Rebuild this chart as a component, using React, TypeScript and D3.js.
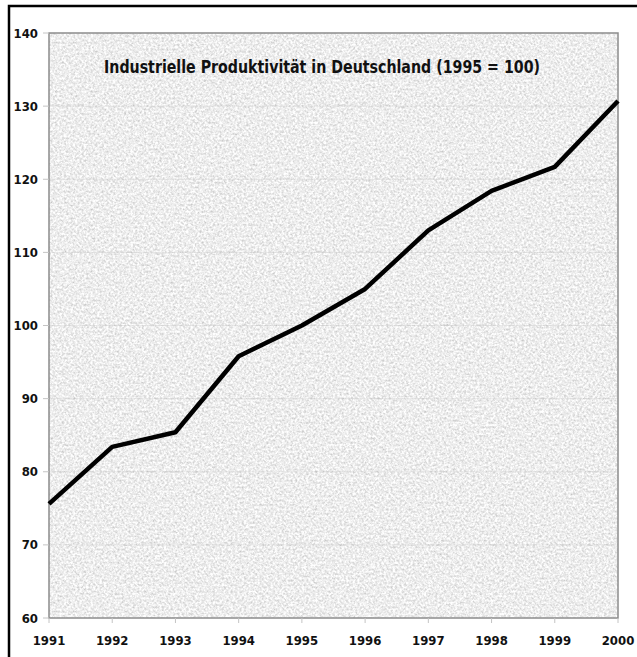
import React from "react";
import * as d3 from "d3";

const years: number[] = [1991, 1992, 1993, 1994, 1995, 1996, 1997, 1998, 1999, 2000];
const productivity: number[] = [75.6, 83.4, 85.4, 95.8, 100.0, 105.0, 113.0, 118.4, 121.7, 130.7];
const yTicks: number[] = [60, 70, 80, 90, 100, 110, 120, 130, 140];
const titleText = "Industrielle Produktivität in Deutschland (1995 = 100)";

const W = 637;
const H = 657;
const plot = { left: 49, top: 33, right: 618, bottom: 618 };

export default function App() {
  const x = d3.scaleLinear().domain([1991, 2000]).range([plot.left, plot.right]);
  const y = d3.scaleLinear().domain([60, 140]).range([plot.bottom, plot.top]);
  const data = years.map((yr, i) => ({ yr, v: productivity[i] }));
  const line = d3
    .line<{ yr: number; v: number }>()
    .x((d) => x(d.yr))
    .y((d) => y(d.v));

  const font = "'DejaVu Sans', sans-serif";

  return (
    <svg
      width={W}
      height={H}
      style={{ position: "absolute", left: 0, top: 0, display: "block", background: "#fff" }}
    >
      <defs>
        <filter id="granite" x="0" y="0" width="1" height="1" filterUnits="objectBoundingBox">
          <feTurbulence type="fractalNoise" baseFrequency="0.45" numOctaves={4} seed={7} result="noise" />
          <feColorMatrix
            in="noise"
            type="matrix"
            values="0.7 0 0 0 0.5  0.7 0 0 0 0.5  0.7 0 0 0 0.5  0 0 0 0 1"
          />
        </filter>
      </defs>

      {/* outer frame */}
      <rect x={9} y={6} width={W + 10} height={H + 10} fill="none" stroke="#000" strokeWidth={2.5} />

      {/* plot background */}
      <rect
        x={plot.left}
        y={plot.top}
        width={plot.right - plot.left}
        height={plot.bottom - plot.top}
        fill="#dcdcdc"
        filter="url(#granite)"
      />

      {/* gridlines */}
      {yTicks.slice(1, -1).map((t) => (
        <line
          key={"g" + t}
          x1={plot.left}
          x2={plot.right}
          y1={y(t)}
          y2={y(t)}
          stroke="#b0b0b0"
          strokeOpacity={0.25}
          strokeWidth={1}
        />
      ))}

      {/* plot border */}
      <rect
        x={plot.left}
        y={plot.top}
        width={plot.right - plot.left}
        height={plot.bottom - plot.top}
        fill="none"
        stroke="#8c8c8c"
        strokeWidth={1.5}
      />

      {/* y ticks */}
      {yTicks.map((t) => (
        <g key={"y" + t}>
          <line x1={plot.left - 6} x2={plot.left} y1={y(t)} y2={y(t)} stroke="#c4c4c4" strokeWidth={1} />
          <text
            x={38}
            y={y(t)}
            dy="0.35em"
            textAnchor="end"
            fontFamily={font}
            fontWeight="bold"
            fontSize={13}
            style={{ fontStretch: "condensed" }}
            fill="#111"
          >
            {t}
          </text>
        </g>
      ))}

      {/* x ticks */}
      {years.map((yr) => (
        <g key={"x" + yr}>
          <line x1={x(yr)} x2={x(yr)} y1={plot.bottom} y2={plot.bottom + 5} stroke="#c4c4c4" strokeWidth={1} />
          <text
            x={x(yr)}
            y={640}
            dy="0.35em"
            textAnchor="middle"
            fontFamily={font}
            fontWeight="bold"
            fontSize={13}
            style={{ fontStretch: "condensed" }}
            fill="#111"
          >
            {yr}
          </text>
        </g>
      ))}

      {/* title */}
      <text
        x={322}
        y={67}
        dy="0.35em"
        textAnchor="middle"
        fontFamily={font}
        fontWeight="bold"
        fontSize={17}
        style={{ fontStretch: "condensed" }}
        textLength={436}
        lengthAdjust="spacingAndGlyphs"
        fill="#111"
      >
        {titleText}
      </text>

      {/* data line */}
      <path
        d={line(data) || ""}
        fill="none"
        stroke="#000"
        strokeWidth={4.5}
        strokeLinejoin="round"
        strokeLinecap="butt"
      />
    </svg>
  );
}
